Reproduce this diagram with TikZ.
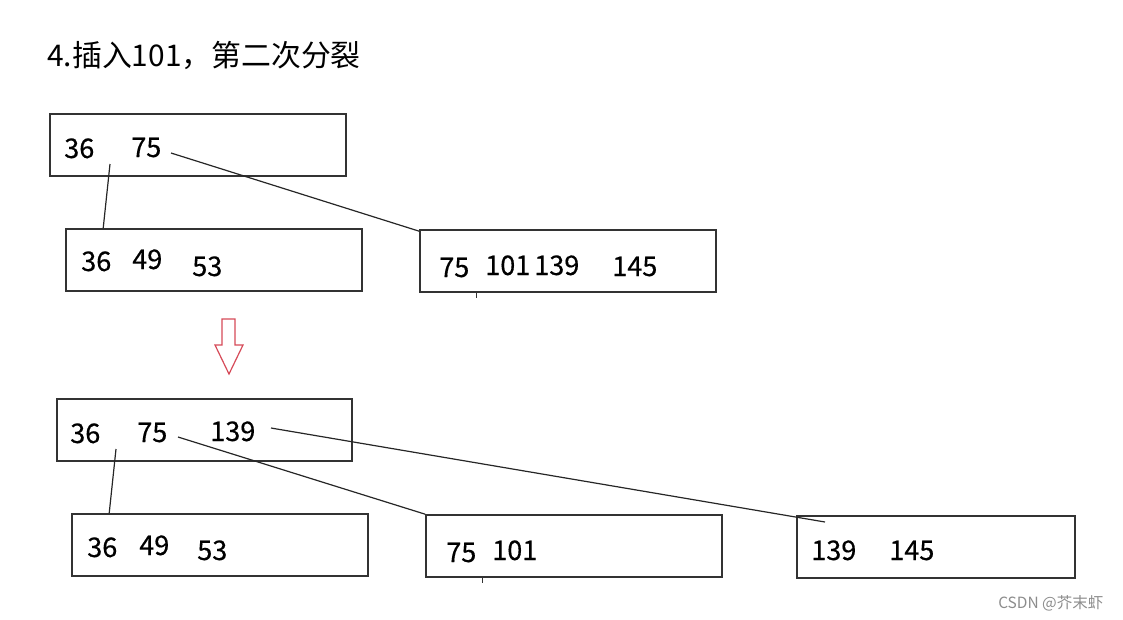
\documentclass[tikz,border=0pt]{standalone}
\usepackage{fontspec}
\setmainfont{Noto Sans CJK SC}
\newfontfamily\numfont{Noto Sans CJK SC}[FakeBold=0.4]
\begin{document}
\begin{tikzpicture}[x=0.75pt,y=-0.75pt,
  box/.style={draw=black!80,line width=1.2pt,minimum width=#1*0.75pt,minimum height=46.5pt,inner sep=0pt},
  num/.style={anchor=base west,inner sep=0pt,font=\numfont\fontsize{20.3pt}{23pt}\selectfont,text=black},
  link/.style={draw=black!85,line width=0.9pt},
  tick/.style={draw=black!80,line width=0.9pt}]
\useasboundingbox (0,0) rectangle (1123,619);
% title
\node[anchor=base west,inner sep=0pt,font=\fontsize{22.4pt}{25pt}\selectfont,text=black] (title) at (47,66) {4.插入101，第二次分裂};
% top boxes
\node[box=296] (r1) at (198,145) {};
\node[box=296] (l1) at (214,260) {};
\node[box=296] (m1) at (568,261) {};
\node[num] (t36) at (64,158) {36};
\node[num] (t75) at (131,157) {75};
\node[num] (a36) at (81,271) {36};
\node[num] (a49) at (132,269) {49};
\node[num] (a53) at (192,276) {53};
\node[num] (b75) at (439,277) {75};
\node[num] (b101) at (485,275) {101};
\node[num] (b139) at (534,275) {139};
\node[num] (b145) at (612,276) {145};
\coordinate (p1) at (110,164);
\coordinate (p2) at (171,153);
\draw[link] (p1) -- ([xshift=38*0.75pt]l1.north west);
\draw[link] (p2) -- ([yshift=-1.5pt]m1.north west);
\draw[tick] ([xshift=57*0.75pt]m1.south west) -- ++(0,5);
% arrow
\draw[draw={rgb,255:red,214;green,74;blue,88},line width=0.9pt,fill=white,line join=miter]
  (222,319) -- (235,319) -- (235,345) -- (243,345) -- (229,374) -- (215,345) -- (222,345) -- cycle;
% bottom boxes
\node[box=295] (r2) at (204.5,430) {};
\node[box=296] (l2) at (220,545) {};
\node[box=296] (m2) at (574,546) {};
\node[box=278] (n2) at (936,547) {};
\node[num] (c36) at (70,443) {36};
\node[num] (c75) at (137,442) {75};
\node[num] (c139) at (210,441) {139};
\node[num] (d36) at (87,557) {36};
\node[num] (d49) at (139,555) {49};
\node[num] (d53) at (197,560) {53};
\node[num] (e75) at (446,562) {75};
\node[num] (e101) at (492,560) {101};
\node[num] (f139) at (811,560) {139};
\node[num] (f145) at (889,560) {145};
\coordinate (q1) at (116,449);
\coordinate (q2) at (178,437);
\coordinate (q3) at (271,428);
\coordinate (q4) at (825,522);
\draw[link] (q1) -- ([xshift=38*0.75pt]l2.north west);
\draw[link] (q2) -- (m2.north west);
\draw[link] (q3) -- (q4);
\draw[tick] ([xshift=57*0.75pt]m2.south west) -- ++(0,5);
% watermark
\node[anchor=base west,inner sep=0pt,font=\fontsize{11.6pt}{13pt}\selectfont,text=black!45] (wm) at (998,608) {CSDN @芥末虾};
\end{tikzpicture}
\end{document}
